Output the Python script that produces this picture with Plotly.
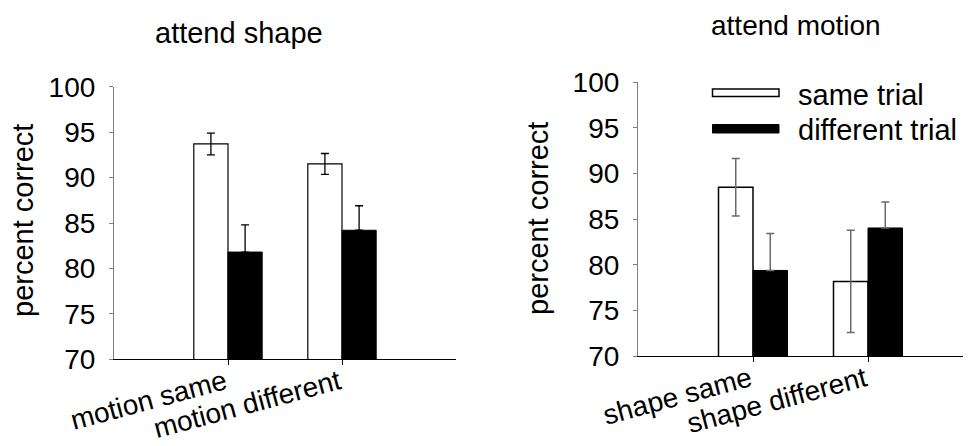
import plotly.graph_objects as go

# ---- data ----
left_categories = ["motion same", "motion different"]
right_categories = ["shape same", "shape different"]
cat_pos = [1, 2]

left_same = [93.7, 91.5]
left_same_err = [1.2, 1.15]
left_diff = [81.8, 84.2]
left_diff_err = [3.0, 2.7]

right_same = [88.5, 78.2]
right_same_err = [3.15, 5.6]
right_diff = [79.4, 84.05]
right_diff_err = [4.05, 2.85]
no_err = [0, 0]

y_ticks = [70, 75, 80, 85, 90, 95, 100]
series_names = ["same trial", "different trial"]

OFF = 8  # page body margin
W, H = 971 - OFF, 446 - OFF
FONT = "Liberation Sans, Arial, sans-serif"

def px(x):
    return (x - OFF) / W

def py(y):
    return 1 - (y - OFF) / H

fig = go.Figure()

# left panel
fig.add_trace(go.Bar(x=cat_pos, y=left_same, name=series_names[0], xaxis="x", yaxis="y",
                     marker=dict(color="white", line=dict(color="black", width=1.2)),
                     error_y=dict(type="data", array=left_same_err, color="black", thickness=1.3, width=4),
                     showlegend=False))
fig.add_trace(go.Bar(x=cat_pos, y=left_diff, name=series_names[1], xaxis="x", yaxis="y",
                     marker=dict(color="black", line=dict(color="black", width=1)),
                     error_y=dict(type="data", symmetric=False, array=left_diff_err, arrayminus=no_err,
                                  color="black", thickness=1.3, width=4),
                     showlegend=False))
# right panel
fig.add_trace(go.Bar(x=cat_pos, y=right_same, name=series_names[0], xaxis="x2", yaxis="y2",
                     marker=dict(color="white", line=dict(color="black", width=1.5)),
                     error_y=dict(type="data", array=right_same_err, color="#6a6a6a", thickness=1.5, width=4),
                     showlegend=False))
fig.add_trace(go.Bar(x=cat_pos, y=right_diff, name=series_names[1], xaxis="x2", yaxis="y2",
                     marker=dict(color="black", line=dict(color="black", width=1)),
                     error_y=dict(type="data", symmetric=False, array=right_diff_err, arrayminus=no_err,
                                  color="#6a6a6a", thickness=1.5, width=4),
                     showlegend=False))

tickfont = dict(family=FONT, size=28, color="black")

def xaxis(domain, rng, labels):
    return dict(domain=domain, range=rng, showline=True, linecolor="black", linewidth=1.2,
                ticks="outside", ticklen=5, tickcolor="black", tickvals=cat_pos, ticktext=labels,
                tickangle=-15, tickfont=tickfont, showgrid=False, zeroline=False, fixedrange=True,
                automargin=False, ticklabelstandoff=-10, ticklabelshift=-3)

def yaxis(domain, anchor):
    return dict(domain=domain, range=[70, 100], anchor=anchor, showline=True, linecolor="#808080",
                linewidth=1.2, ticks="outside", ticklen=4, tickcolor="#808080", tickvals=y_ticks,
                tickfont=tickfont, showgrid=False, zeroline=False, ticklabelstandoff=8,
                automargin=False)

fig.update_layout(
    width=W, height=H,
    margin=dict(l=0, r=0, t=0, b=0, autoexpand=False),
    paper_bgcolor="white", plot_bgcolor="white",
    barmode="group", bargap=0.4, bargroupgap=0,
    font=dict(family=FONT, color="black"),
    xaxis=xaxis([px(114), px(456)], [0, 3], left_categories) | dict(anchor="y"),
    yaxis=yaxis([py(359.3), py(86.7)], "x"),
    xaxis2=xaxis([px(638), 1.0], [0, 333 / 115], right_categories) | dict(anchor="y2"),
    yaxis2=yaxis([py(356.3), py(82.3)], "x2"),
    showlegend=False,
)

annots = [
    dict(text="attend shape", x=px(239), y=py(33), yanchor="middle", font=dict(size=29)),
    dict(text="attend motion", x=px(796), y=1.0, yanchor="top", font=dict(size=28)),
    dict(text="percent correct", x=px(23), y=py(221), textangle=-90, font=dict(size=29)),
    dict(text="percent correct", x=px(538), y=py(219), textangle=-90, font=dict(size=29)),
    dict(text=series_names[0], x=px(796), y=py(95), xanchor="left", font=dict(size=29)),
    dict(text=series_names[1], x=px(796), y=py(130), xanchor="left", font=dict(size=29)),
]
for a in annots:
    a.setdefault("xanchor", "center")
    a.setdefault("yanchor", "middle")
    fig.add_annotation(xref="paper", yref="paper", showarrow=False, **a)

fig.add_shape(type="rect", xref="paper", yref="paper", x0=px(712.5), x1=px(779), y0=py(96.5), y1=py(89),
              fillcolor="white", line=dict(color="black", width=1.5))
fig.add_shape(type="rect", xref="paper", yref="paper", x0=px(712.5), x1=px(779), y0=py(133), y1=py(124.5),
              fillcolor="black", line=dict(color="black", width=1))

fig.write_html("out.html")
